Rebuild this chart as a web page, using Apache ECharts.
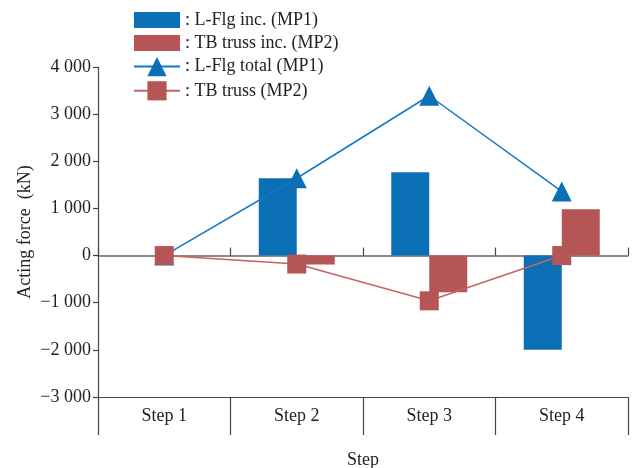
<!DOCTYPE html>
<html><head><meta charset="utf-8">
<script src="https://cdn.jsdelivr.net/npm/echarts@6/dist/echarts.min.js"></script>
<style>html,body{margin:0;padding:0;background:#fff}#c{width:638px;height:468px}</style>
</head><body><div id="c"></div>
<script>
var categories = ['Step 1', 'Step 2', 'Step 3', 'Step 4'];
var lflgInc = [0, 1640, 1770, -2000];
var tbInc = [0, -190, -780, 980];
var lflgTotal = [0, 1640, 3390, 1360];
var tbTotal = [0, -180, -960, 0];
var seriesNames = ['L-Flg inc. (MP1)', 'TB truss inc. (MP2)', 'L-Flg total (MP1)', 'TB truss (MP2)'];

var FONT = '"Liberation Serif", "DejaVu Serif", serif';
var BLUE = '#0b6fb6', RED = '#b65555';
var RECT_ICON = 'path://M0 0H46V16H0Z';

function fmt(v) {
  var a = Math.abs(v), s;
  if (a >= 1000) s = Math.floor(a / 1000) + ' ' + String(a % 1000).padStart(3, '0');
  else s = String(a);
  return (v < 0 ? '\u2212' : '') + s;
}

var chart = echarts.init(document.getElementById('c'), null, {renderer: 'canvas'});
chart.setOption({
  animation: false,
  backgroundColor: '#fff',
  textStyle: {fontFamily: FONT},
  legend: {
    orient: 'vertical', left: 128, top: 6, itemWidth: 46, itemHeight: 24, itemGap: 5,
    data: [
      {name: seriesNames[0], icon: RECT_ICON},
      {name: seriesNames[1], icon: RECT_ICON},
      {name: seriesNames[2]},
      {name: seriesNames[3]}
    ],
    formatter: function (n) { return ': ' + n; },
    textStyle: {fontFamily: FONT, fontSize: 18, color: '#222'}
  },
  grid: {left: 98, right: 10, top: 67, bottom: 71, outerBoundsMode: 'none'},
  xAxis: [{
    type: 'category', data: categories, position: 'bottom',
    axisLine: {onZero: false, lineStyle: {color: '#444', width: 1.2}},
    axisTick: {show: true, length: 38, lineStyle: {color: '#444', width: 1.2}},
    axisLabel: {fontFamily: FONT, fontSize: 18, color: '#222', margin: 10},
    name: 'Step', nameLocation: 'middle', nameGap: 54,
    nameTextStyle: {fontFamily: FONT, fontSize: 18, color: '#222'}
  }, {
    type: 'category', data: categories, position: 'bottom',
    axisLine: {onZero: true, lineStyle: {color: '#666', width: 1.6}},
    axisTick: {show: true, inside: true, length: 8, lineStyle: {color: '#444', width: 1.2}},
    axisLabel: {show: false}
  }],
  yAxis: {
    type: 'value', min: -3000, max: 4000, interval: 1000,
    axisLine: {show: true, lineStyle: {color: '#444', width: 1.2}},
    axisTick: {show: true, length: 5, lineStyle: {color: '#444', width: 1.2}},
    splitLine: {show: false},
    axisLabel: {fontFamily: FONT, fontSize: 18, color: '#222', margin: 7, formatter: fmt},
    name: 'Acting force  (kN)', nameLocation: 'middle', nameGap: 64, nameMoveOverlap: false,
    nameTextStyle: {fontFamily: FONT, fontSize: 18, color: '#222'}
  },
  series: [{
    name: seriesNames[0], type: 'bar', data: lflgInc, barWidth: 38, barGap: '0%',
    itemStyle: {color: BLUE}, z: 2
  }, {
    name: seriesNames[1], type: 'bar', data: tbInc, barWidth: 38, barGap: '0%',
    itemStyle: {color: RED}, z: 2
  }, {
    name: seriesNames[2], type: 'line', data: lflgTotal, symbol: 'triangle', symbolSize: 20,
    lineStyle: {color: '#1278c4', width: 1.5}, itemStyle: {color: BLUE}, z: 4
  }, {
    name: seriesNames[3], type: 'line', data: tbTotal, symbol: 'rect', symbolSize: 19,
    lineStyle: {color: '#c46464', width: 1.5}, itemStyle: {color: RED}, z: 5
  }]
});
</script></body></html>
